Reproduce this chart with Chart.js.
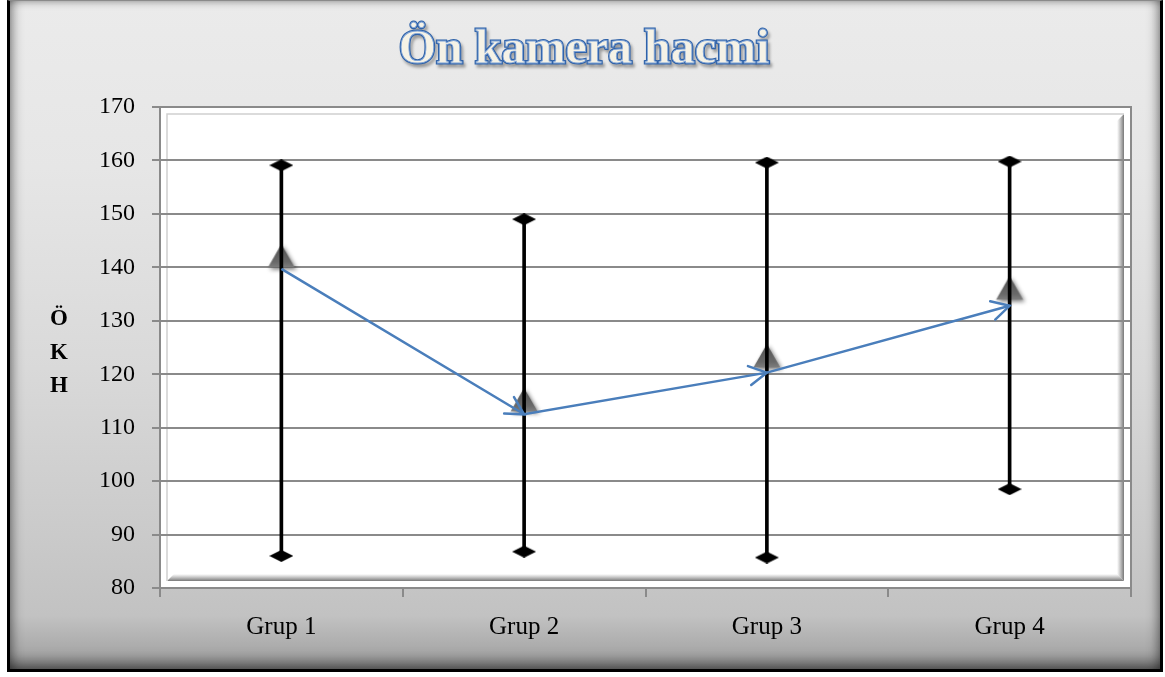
<!DOCTYPE html>
<html>
<head>
<meta charset="utf-8">
<title>Ön kamera hacmi</title>
<script src="https://cdn.jsdelivr.net/npm/chart.js@4.4.0/dist/chart.umd.min.js"></script>
<style>
  html, body { margin: 0; padding: 0; background: #fff; overflow: hidden; }
  #frame {
    position: absolute; left: 7px; top: 0; width: 1150px; height: 668px;
    border-left: 3px solid #000; border-right: 3px solid #000;
    border-bottom: 3px solid #000; border-top: 1px solid #8a8a8a;
    background: linear-gradient(to bottom, #ebebeb 0%, #e6e6e6 25%, #d9d9d9 55%, #cacaca 80%, #c2c2c2 92%, #9c9c9c 100%);
    box-shadow: inset 10px 0 12px -8px rgba(0,0,0,0.45), inset -10px 0 12px -8px rgba(0,0,0,0.45),
                inset 0 8px 10px -8px rgba(0,0,0,0.35), inset 0 -14px 14px -8px rgba(0,0,0,0.5);
  }
  #c { position: absolute; left: 0; top: 0; }
</style>
</head>
<body>
<div id="frame"></div>
<canvas id="c" width="1165" height="677"></canvas>
<script>
const groups = ['Grup 1', 'Grup 2', 'Grup 3', 'Grup 4'];
const lowValues = [86.0, 86.8, 85.7, 98.5];
const highValues = [159.1, 149.0, 159.6, 159.8];
const meanValues = [142.1, 115.2, 123.4, 136.1];
const trendValues = [139.7, 112.5, 120.3, 132.8];
const yMin = 80, yMax = 170, yStep = 10;
const titleText = 'Ön kamera hacmi';
const yTitleLines = ['Ö', 'K', 'H'];

const serif = "'Liberation Serif', 'Times New Roman', serif";

// flattened black diamond for the min / max ends
function makeDiamond() {
  const c = document.createElement('canvas');
  c.width = 24; c.height = 12;
  const g = c.getContext('2d');
  g.fillStyle = '#000';
  g.beginPath();
  g.moveTo(0, 6); g.lineTo(12, 0); g.lineTo(24, 6); g.lineTo(12, 12);
  g.closePath();
  g.fill();
  return c;
}

// grey shaded triangle with soft shadow for the mean
function makeTriangle() {
  const c = document.createElement('canvas');
  c.width = 40; c.height = 40;
  const g = c.getContext('2d');
  g.shadowColor = 'rgba(0,0,0,0.5)';
  g.shadowBlur = 4;
  g.shadowOffsetX = 2;
  g.shadowOffsetY = 2;
  const grad = g.createLinearGradient(0, 8, 0, 32);
  grad.addColorStop(0, '#4e4e4e');
  grad.addColorStop(0.75, '#6a6a6a');
  grad.addColorStop(1, '#808080');
  g.fillStyle = grad;
  g.beginPath();
  g.moveTo(20, 8); g.lineTo(33.5, 31.5); g.lineTo(6.5, 31.5);
  g.closePath();
  g.fill();
  return c;
}

const plotPanel = {
  id: 'plotPanel',
  beforeDraw(chart) {
    const { ctx, chartArea: a } = chart;
    ctx.save();
    ctx.fillStyle = '#fff';
    ctx.fillRect(a.left, a.top, a.right - a.left, a.bottom - a.top);
    // right bevel
    let gr = ctx.createLinearGradient(a.right - 14, 0, a.right - 7, 0);
    gr.addColorStop(0, 'rgba(140,140,140,0)');
    gr.addColorStop(1, 'rgba(120,120,120,1)');
    ctx.fillStyle = gr;
    ctx.beginPath();
    ctx.moveTo(a.right - 14, a.top + 14); ctx.lineTo(a.right - 7, a.top + 7);
    ctx.lineTo(a.right - 7, a.bottom - 7); ctx.lineTo(a.right - 14, a.bottom - 14);
    ctx.closePath(); ctx.fill();
    // bottom bevel
    gr = ctx.createLinearGradient(0, a.bottom - 14, 0, a.bottom - 7);
    gr.addColorStop(0, 'rgba(140,140,140,0)');
    gr.addColorStop(1, 'rgba(120,120,120,1)');
    ctx.fillStyle = gr;
    ctx.beginPath();
    ctx.moveTo(a.left + 14, a.bottom - 14); ctx.lineTo(a.right - 14, a.bottom - 14);
    ctx.lineTo(a.right - 7, a.bottom - 7); ctx.lineTo(a.left + 7, a.bottom - 7);
    ctx.closePath(); ctx.fill();
    // light top / left edge
    ctx.strokeStyle = '#cfcfcf';
    ctx.lineWidth = 1.5;
    ctx.beginPath();
    ctx.moveTo(a.left + 7, a.bottom - 7); ctx.lineTo(a.left + 7, a.top + 7); ctx.lineTo(a.right - 7, a.top + 7);
    ctx.stroke();
    // outer frame
    ctx.strokeStyle = '#8a8a8a';
    ctx.lineWidth = 2;
    ctx.strokeRect(a.left, a.top, a.right - a.left, a.bottom - a.top);
    ctx.restore();
  }
};

const arrowHeads = {
  id: 'arrowHeads',
  afterDatasetsDraw(chart) {
    const meta = chart.getDatasetMeta(3);
    const pts = meta.data;
    const ctx = chart.ctx;
    ctx.save();
    ctx.strokeStyle = '#4a7ebb';
    ctx.lineWidth = 2.5;
    ctx.lineCap = 'round';
    for (let i = 1; i < pts.length; i++) {
      const p0 = pts[i - 1], p1 = pts[i];
      const ang = Math.atan2(p1.y - p0.y, p1.x - p0.x);
      const len = 20, spread = 0.5;
      ctx.beginPath();
      ctx.moveTo(p1.x - len * Math.cos(ang - spread), p1.y - len * Math.sin(ang - spread));
      ctx.lineTo(p1.x, p1.y);
      ctx.lineTo(p1.x - len * Math.cos(ang + spread), p1.y - len * Math.sin(ang + spread));
      ctx.stroke();
    }
    ctx.restore();
  }
};

const textBits = {
  id: 'textBits',
  afterDraw(chart) {
    const ctx = chart.ctx;
    ctx.save();
    // WordArt-like title
    ctx.font = 'bold 48px ' + serif;
    ctx.textAlign = 'center';
    ctx.textBaseline = 'alphabetic';
    ctx.shadowColor = 'rgba(0,0,0,0.35)';
    ctx.shadowBlur = 3;
    ctx.shadowOffsetX = 2;
    ctx.shadowOffsetY = 3;
    ctx.lineWidth = 3;
    ctx.strokeStyle = '#2f62a8';
    ctx.strokeText(titleText, 584, 63);
    ctx.shadowColor = 'transparent';
    ctx.fillStyle = '#f5f2e6';
    ctx.fillText(titleText, 584, 63);
    ctx.lineWidth = 0.8;
    ctx.strokeStyle = '#7fa3d6';
    ctx.strokeText(titleText, 584, 63);
    // stacked y title
    ctx.font = 'bold 23px ' + serif;
    ctx.fillStyle = '#000';
    yTitleLines.forEach((t, i) => ctx.fillText(t, 59, 325 + i * 33.5));
    ctx.restore();
  }
};

new Chart(document.getElementById('c'), {
  type: 'bar',
  data: {
    labels: groups,
    datasets: [
      {
        type: 'line',
        data: meanValues,
        showLine: false,
        pointStyle: makeTriangle(),
        pointRadius: 12,
        order: 5
      },
      {
        type: 'bar',
        data: groups.map((g, i) => [lowValues[i], highValues[i]]),
        backgroundColor: '#000',
        borderWidth: 0,
        barThickness: 3,
        order: 4
      },
      {
        type: 'line',
        data: highValues,
        showLine: false,
        pointStyle: makeDiamond(),
        pointRadius: 10,
        order: 3
      },
      {
        type: 'line',
        data: trendValues,
        borderColor: '#4a7ebb',
        borderWidth: 2.5,
        pointRadius: 0,
        tension: 0,
        fill: false,
        order: 1
      },
      {
        type: 'line',
        data: lowValues,
        showLine: false,
        pointStyle: makeDiamond(),
        pointRadius: 10,
        order: 2
      }
    ]
  },
  options: {
    responsive: false,
    animation: false,
    devicePixelRatio: 1,
    layout: { padding: { top: 107, right: 34, left: 0, bottom: 0 } },
    plugins: {
      legend: { display: false },
      tooltip: { enabled: false },
      title: { display: false }
    },
    scales: {
      x: {
        offset: true,
        grid: { offset: true, drawOnChartArea: false, drawTicks: true, tickLength: 9, color: '#8a8a8a', lineWidth: 2 },
        border: { display: true, color: '#8a8a8a', width: 2 },
        ticks: { color: '#000', font: { family: serif, size: 25 }, padding: 15, maxRotation: 0 },
        afterFit(scale) { scale.height = 89; }
      },
      y: {
        min: yMin,
        max: yMax,
        grid: { color: '#8a8a8a', lineWidth: 2, tickLength: 8 },
        border: { display: true, color: '#8a8a8a', width: 2 },
        ticks: { stepSize: yStep, color: '#000', font: { family: serif, size: 24 }, padding: 17 },
        afterFit(scale) { scale.width = 160; }
      }
    }
  },
  plugins: [plotPanel, arrowHeads, textBits]
});
</script>
</body>
</html>
